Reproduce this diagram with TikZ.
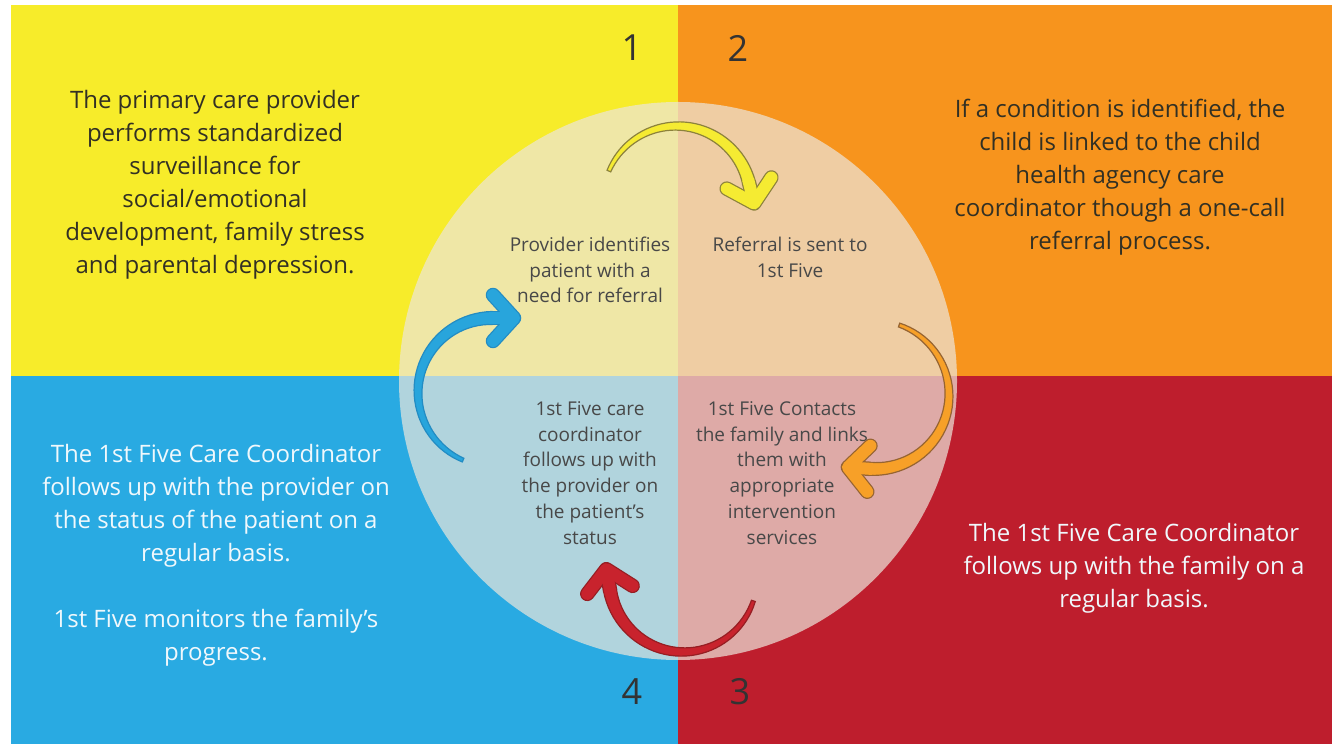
\documentclass[tikz,border=0pt]{standalone}
\usepackage{fontspec}
\setmainfont{Open Sans}
\usetikzlibrary{calc, positioning}

\definecolor{quadyellow}{RGB}{247,236,42}
\definecolor{quadorange}{RGB}{247,148,29}
\definecolor{quadblue}{RGB}{41,170,226}
\definecolor{quadred}{RGB}{190,30,45}
\definecolor{veil}{RGB}{236,230,220}
\definecolor{darktext}{RGB}{50,48,36}
\definecolor{lighttext}{RGB}{240,248,252}
\definecolor{innertext}{RGB}{72,72,72}
\definecolor{arryellow}{RGB}{245,235,50}
\definecolor{lineyellow}{RGB}{140,130,60}
\definecolor{arrorange}{RGB}{247,160,40}
\definecolor{lineorange}{RGB}{150,100,50}
\definecolor{arrred}{RGB}{200,35,45}
\definecolor{linered}{RGB}{150,30,35}
\definecolor{arrblue}{RGB}{40,165,220}
\definecolor{lineblue}{RGB}{35,140,195}

% tapered curved arrow: centre, tail angle, head angle, fill, outline
\newcommand{\cyclearrow}[5]{%
  \begin{scope}[shift={(#1)}]
    \filldraw[fill=#4, draw=#5, line width=1.2pt]
      plot[domain=#2:#3, samples=40, variable=\q] (\q:{74+(2+4.5*(\q-(#2))/((#3)-(#2)))})
      -- plot[domain=#3:#2, samples=40, variable=\q] (\q:{74-(2+4.5*(\q-(#2))/((#3)-(#2)))})
      -- cycle;
    \coordinate (shaftend) at (#3:74);
    \coordinate (tipend) at ($(shaftend)+(#3-90:22)$);
    \draw[#5, line width=14.5pt, line cap=round, line join=round]
      ($(tipend)+(#3+90:21)+(#3:23)$) -- (tipend) -- ($(tipend)+(#3+90:21)+(#3:-23)$);
    \draw[#5, line width=14.5pt] (shaftend) -- (tipend);
    \draw[#4, line width=12pt, line cap=round, line join=round]
      ($(tipend)+(#3+90:21)+(#3:23)$) -- (tipend) -- ($(tipend)+(#3+90:21)+(#3:-23)$);
    \draw[#4, line width=12pt] ($(shaftend)+(#3+90:3)$) -- (tipend);
  \end{scope}}

\begin{document}
\begin{tikzpicture}[
  x=1pt, y=1pt,
  sidetext/.style = {align=center, font=\fontsize{24}{33}\selectfont},
  circletext/.style = {align=center, text=innertext, font=\fontsize{19}{25.8}\selectfont},
  stepnum/.style = {text=black!80, font=\fontsize{36}{40}\selectfont}
]
  \useasboundingbox (0,0) rectangle (1332,744);
  \fill[white] (0,0) rectangle (1332,744);

  % quadrants
  \fill[quadyellow] (11,368) rectangle (678,739);
  \fill[quadorange] (678,368) rectangle (1332,739);
  \fill[quadblue] (11,0) rectangle (678,368);
  \fill[quadred] (678,0) rectangle (1332,368);

  % pale disc in the middle
  \fill[veil, opacity=0.7] (678,363) circle (279);

  % step numbers
  \node[stepnum] (num1) at (632,696) {1};
  \node[stepnum] (num2) at (738,696) {2};
  \node[stepnum] (num3) at (740,52) {3};
  \node[stepnum] (num4) at (632,52) {4};

  % outer texts
  \node[sidetext, text=darktext] (survey) at (215,559)
    {The primary care provider\\performs standardized\\surveillance for\\social/emotional\\development, family stress\\and parental depression.};
  \node[sidetext, text=darktext] (linkage) at (1120,567)
    {If a condition is identified, the\\child is linked to the child\\health agency care\\coordinator though a one-call\\referral process.};
  \node[sidetext, text=lighttext] (familyfollow) at (1134,176)
    {The 1st Five Care Coordinator\\follows up with the family on a\\regular basis.};
  \node[sidetext, text=lighttext] (providerfollow) at (216,189)
    {The 1st Five Care Coordinator\\follows up with the provider on\\the status of the patient on a\\regular basis.\\[33pt]1st Five monitors the family’s\\progress.};

  % texts inside the disc
  \node[circletext] (identify) at (590,474)
    {Provider identifies\\patient with a\\need for referral};
  \node[circletext] (referral) at (790,487)
    {Referral is sent to\\1st Five};
  \node[circletext] (contact) at (782,271)
    {1st Five Contacts\\the family and links\\them with\\appropriate\\intervention\\services};
  \node[circletext] (report) at (590,271)
    {1st Five care\\coordinator\\follows up with\\the provider on\\the patient’s\\status};

  % cycle arrows
  \coordinate (hub1) at (677,544);
  \coordinate (hub2) at (875,349);
  \coordinate (hub3) at (683,166);
  \coordinate (hub4) at (492,352);
  \cyclearrow{hub1}{157}{14}{arryellow}{lineyellow}
  \cyclearrow{hub2}{71}{-94}{arrorange}{lineorange}
  \cyclearrow{hub3}{-18}{-170}{arrred}{linered}
  \cyclearrow{hub4}{247}{90}{arrblue}{lineblue}

\end{tikzpicture}
\end{document}
